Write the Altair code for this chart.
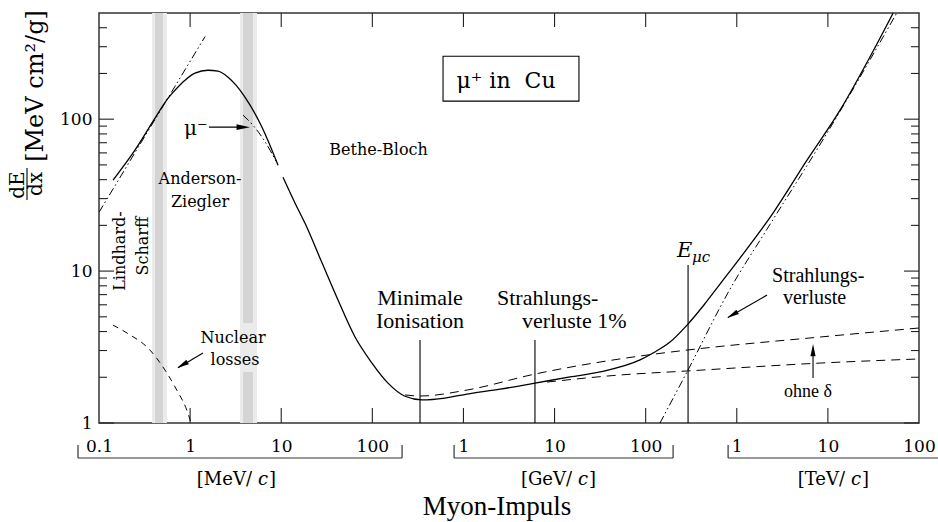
import altair as alt
import pandas as pd

# ---------------- data (momentum p in MeV/c, dE/dx in MeV cm^2/g) ----------------
solid_low_p = [0.1425, 0.248, 0.412, 0.571, 0.682, 0.879, 1.13, 1.57, 2.02, 2.61, 3.19, 4.0, 6.15, 9.23]
solid_low_v = [39.7, 62.5, 101.6, 137, 155, 180.6, 201, 210, 207, 189, 167.5, 139.6, 88.6, 49.8]

solid_high_p = [10.46, 14.2, 18.2, 28.1, 42.0, 64.6, 99.1, 148.6, 228.5, 351, 628, 1094, 2518, 6095,
                14800, 31550, 86700, 120500, 185000, 284500, 436000, 654000, 1.084e6, 2.50e6,
                5.90e6, 1.36e7, 3.13e7, 5.19e7]
solid_high_v = [41.5, 28.0, 20.7, 11.29, 6.45, 3.68, 2.48, 1.83, 1.50, 1.42, 1.46, 1.55, 1.67, 1.83,
                2.01, 2.17, 2.60, 2.89, 3.41, 4.41, 5.98, 8.21, 12.18, 24.1,
                53.7, 114.6, 280, 498]

ion_delta_p = [228.5, 333.7, 1094, 6095, 86700, 284500, 8.18e6, 1e8]
ion_delta_v = [1.53, 1.505, 1.648, 2.10, 2.76, 3.02, 3.68, 4.22]

ion_nodelta_p = [8260, 52200, 284500, 8.18e6, 1e8]
ion_nodelta_v = [1.86, 2.07, 2.20, 2.48, 2.64]

rad_p = [143500, 284500, 843000, 2.15e6, 9.77e6, 5.7e7]
rad_v = [1.0, 2.17, 7.61, 18.9, 80.9, 500]

nuclear_p = [0.1425, 0.203, 0.363, 0.530, 0.682, 0.997, 1.02]
nuclear_v = [4.41, 3.91, 3.02, 2.23, 1.73, 1.05, 1.0]

lindhard_p = [0.1, 1.46]
lindhard_v = [24.4, 350]

mu_minus_p = [3.81, 4.78, 6.15, 7.54, 8.99]
mu_minus_v = [106.3, 92.7, 76.2, 62.5, 51.4]

marker_p = [333.7, 6095, 2.92e5]
marker_top = [3.52, 3.52, 10.95]

band_outer_lo = [0.382, 3.53]
band_outer_hi = [0.5575, 5.42]
band_inner_lo = [0.4117, 3.81]
band_inner_hi = [0.504, 4.90]

x_decades = [1, 10, 100, 1e3, 1e4, 1e5, 1e6, 1e7]
x_label_values = [0.1, 1, 10, 100, 1e3, 1e4, 1e5, 1e6, 1e7, 1e8]
y_major = [1, 10, 100]
y_minor = [2, 3, 4, 5, 6, 7, 8, 9, 20, 30, 40, 50, 60, 70, 80, 90, 200, 300, 400]

bracket_lo = [0.0588, 789, 8.03e5]
bracket_hi = [212, 2.0e5, 2.0e8]
bracket_ends = [0.0588, 212, 789, 2.0e5, 8.03e5]
unit_prefix = ["[MeV/", "[GeV/", "[TeV/"]
unit_pos = [3.27, 10640, 1.055e7]

# ---------------- scales / axes ----------------
W, H = 820, 410
XS = alt.Scale(type="log", domain=[0.1, 1e8])
YS = alt.Scale(type="log", domain=[1, 500])
SERIF = "DejaVu Serif"
TIMES = "Liberation Serif"

XAX = alt.Axis(values=x_label_values, ticks=False, domain=False, grid=False, title=None,
               labelExpr="datum.value < 0.5 ? '0.1' : format(pow(10, round(log(datum.value)/LN10) % 3), 'd')",
               labelFont=SERIF, labelFontSize=17, labelColor="black", labelPadding=15,
               labelOverlap=False, labelFlush=False)
YAX = alt.Axis(values=y_major, ticks=False, domain=False, grid=False, title=None,
               labelExpr="format(datum.value, 'd')",
               labelFont=SERIF, labelFontSize=17, labelColor="black", labelPadding=7,
               labelOverlap=False, labelFlush=False)


def X(f="p"):
    return alt.X(f"{f}:Q", scale=XS, axis=XAX)


def Y(f="v"):
    return alt.Y(f"{f}:Q", scale=YS, axis=YAX)


def curve(ps, vs, dash=None, width=1.2):
    kw = dict(color="black", strokeWidth=width, clip=True, interpolate="monotone")
    if dash is not None:
        kw["strokeDash"] = dash
    return alt.Chart(pd.DataFrame({"p": ps, "v": vs})).mark_line(**kw).encode(x=X(), y=Y())


def seg(p1, v1, p2, v2, width=1.1):
    df = pd.DataFrame({"p": [p1], "v": [v1], "p2": [p2], "v2": [v2]})
    return alt.Chart(df).mark_rule(color="black", strokeWidth=width).encode(
        x=X(), y=Y(), x2="p2:Q", y2="v2:Q")


def head(p, v, angle, size=150):
    return alt.Chart(pd.DataFrame({"p": [p], "v": [v]})).mark_point(
        shape="M0,0L0.42,2L-0.42,2Z", filled=True, color="black", opacity=1,
        strokeWidth=0, size=size, angle=angle).encode(x=X(), y=Y())


def note(p, v, text, size=16, font=SERIF, align="center", baseline="alphabetic", angle=None, style=None):
    kw = dict(fontSize=size, font=font, align=align, baseline=baseline, color="black")
    if angle is not None:
        kw["angle"] = angle
    if style is not None:
        kw["fontStyle"] = style
    df = pd.DataFrame({"p": [p], "v": [v], "t": [text]})
    return alt.Chart(df).mark_text(**kw).encode(x=X(), y=Y(), text="t:N")


def pix_note(x, y, text, size=16, font=SERIF, align="center", baseline="middle", angle=None):
    kw = dict(fontSize=size, font=font, align=align, baseline=baseline, color="black")
    if angle is not None:
        kw["angle"] = angle
    return alt.Chart(alt.Data(values=[{"t": text}])).mark_text(**kw).encode(
        x=alt.value(x), y=alt.value(y), text="t:N")


layers = []

# grey bands
OUTER = "#ebebeb"
outer_df = pd.DataFrame({"p": band_outer_lo, "p2": band_outer_hi})
inner_df = pd.DataFrame({"p": band_inner_lo, "p2": band_inner_hi})
layers.append(alt.Chart(outer_df).mark_rect(color=OUTER).encode(
    x=X(), x2="p2:Q", y=alt.value(0), y2=alt.value(H)))
layers.append(alt.Chart(inner_df).mark_rect(color="#d4d4d4").encode(
    x=X(), x2="p2:Q", y=alt.value(0), y2=alt.value(H)))
patch = pd.DataFrame({"p": [band_inner_lo[1]], "p2": [band_inner_hi[1]], "v": [4.55], "v2": [2.165]})
layers.append(alt.Chart(patch).mark_rect(color=OUTER).encode(x=X(), x2="p2:Q", y=Y(), y2="v2:Q"))

# ticks (inward)
xt = pd.DataFrame({"p": x_decades})
layers.append(alt.Chart(xt).mark_rule(color="#222", strokeWidth=1.1).encode(
    x=X(), y=alt.value(H - 15), y2=alt.value(H)))
layers.append(alt.Chart(xt).mark_rule(color="#222", strokeWidth=1.1).encode(
    x=X(), y=alt.value(0), y2=alt.value(14)))
ymaj = pd.DataFrame({"v": y_major})
ymin = pd.DataFrame({"v": y_minor})
for x0, x1, d in [(0, 15, ymaj), (0, 8, ymin), (W - 15, W, ymaj), (W - 8, W, ymin)]:
    layers.append(alt.Chart(d).mark_rule(color="#222", strokeWidth=1.1).encode(
        y=Y(), x=alt.value(x0), x2=alt.value(x1)))

# curves
DASH = [9, 6]
DASHDOT = [8, 3, 1.5, 3, 1.5, 3]
layers.append(curve(lindhard_p, lindhard_v, dash=DASHDOT, width=1.0))
layers.append(curve(nuclear_p, nuclear_v, dash=[6, 5], width=1.0))
layers.append(curve(solid_low_p, solid_low_v, width=1.3))
layers.append(curve(solid_high_p, solid_high_v, width=1.3))
layers.append(curve(mu_minus_p, mu_minus_v, dash=DASHDOT, width=1.0))
layers.append(curve(ion_delta_p, ion_delta_v, dash=DASH, width=1.0))
layers.append(curve(ion_nodelta_p, ion_nodelta_v, dash=DASH, width=1.0))
layers.append(curve(rad_p, rad_v, dash=DASHDOT, width=1.0))

# vertical markers
mk = pd.DataFrame({"p": marker_p, "v": marker_top})
layers.append(alt.Chart(mk).mark_rule(color="black", strokeWidth=1.1).encode(
    x=X(), y=Y(), y2=alt.value(H)))

# box with mu+ in Cu
box = pd.DataFrame({"p": [597], "p2": [18530], "v": [259.6], "v2": [131.4]})
layers.append(alt.Chart(box).mark_rect(fill="white", stroke="black", strokeWidth=1.1).encode(
    x=X(), x2="p2:Q", y=Y(), y2="v2:Q"))
layers.append(note(2931, 160, "μ⁺ in\u00a0 Cu", size=22))

# arrows
layers.append(seg(1.61, 88.6, 3.6, 88.6))
layers.append(head(4.54, 88.6, 90, size=180))
layers.append(seg(1.385, 2.888, 0.74, 2.31))
layers.append(head(0.718, 2.30, 240))
layers.append(seg(2.15e6, 6.95, 8.0e5, 4.95))
layers.append(head(7.82e5, 4.91, 240))
layers.append(seg(6.87e6, 1.977, 6.87e6, 3.1))
layers.append(head(6.87e6, 3.31, 0))

# annotations
layers.append(note(0.857, 78.5, "μ⁻", size=20, align="left"))
layers.append(note(1.284, 37.4, "Anderson-", size=16))
layers.append(note(1.284, 26.4, "Ziegler", size=16))
layers.append(note(117, 58.0, "Bethe-Bloch", size=16))
layers.append(note(0.170, 13.54, "Lindhard-", size=16, baseline="middle", angle=270))
layers.append(note(0.304, 14.6, "Scharff", size=16, baseline="middle", angle=270))
layers.append(note(2.96, 3.36, "Nuclear", size=16))
layers.append(note(3.11, 2.41, "losses", size=16))
layers.append(note(333.7, 5.98, "Minimale", size=22, font=TIMES))
layers.append(note(333.7, 4.22, "Ionisation", size=22, font=TIMES))
layers.append(note(2335, 5.98, "Strahlungs-", size=22, font=TIMES, align="left"))
layers.append(note(4395, 4.22, "verluste 1%", size=22, font=TIMES, align="left"))
layers.append(note(2.44e6, 8.47, "Strahlungs-", size=20, font=TIMES, align="left"))
layers.append(note(3.21e6, 6.07, "verluste", size=20, font=TIMES, align="left"))
layers.append(note(6.05e6, 1.483, "ohne δ", size=18, font=TIMES))
layers.append(note(2.21e5, 12.37, "E", size=21, align="left", style="italic"))
layers.append(note(3.23e5, 11.46, "μc", size=15, align="left", style="italic"))

# unit brackets below the axis
br = pd.DataFrame({"p": bracket_lo, "p2": bracket_hi})
layers.append(alt.Chart(br).mark_rule(color="#333", strokeWidth=1.2).encode(
    x=X(), x2="p2:Q", y=alt.value(445)))
be = pd.DataFrame({"p": bracket_ends})
layers.append(alt.Chart(be).mark_rule(color="#333", strokeWidth=1.2).encode(
    x=X(), y=alt.value(432), y2=alt.value(445)))
ul = pd.DataFrame({"p": unit_pos, "t": unit_prefix, "c": ["c"] * 3, "b": ["]"] * 3})
layers.append(alt.Chart(ul).mark_text(font=SERIF, fontSize=18, baseline="middle", align="right",
                                      dx=15, color="black").encode(x=X(), y=alt.value(467), text="t:N"))
layers.append(alt.Chart(ul).mark_text(font=SERIF, fontSize=18, baseline="middle", align="center",
                                      dx=26, fontStyle="italic", color="black").encode(
    x=X(), y=alt.value(467), text="c:N"))
layers.append(alt.Chart(ul).mark_text(font=SERIF, fontSize=18, baseline="middle", align="left",
                                      dx=32, color="black").encode(x=X(), y=alt.value(467), text="b:N"))
layers.append(pix_note(398, 494, "Myon-Impuls", size=27, font=TIMES))

# y-axis title
layers.append(pix_note(-56, 73, "[MeV cm²/g]", size=24, baseline="alphabetic", angle=270))
layers.append(pix_note(-75, 172, "dE", size=20, baseline="alphabetic", angle=270))
layers.append(pix_note(-57, 171, "dx", size=20, baseline="alphabetic", angle=270))
layers.append(alt.Chart(alt.Data(values=[{"a": 1}])).mark_rule(color="black", strokeWidth=1.1).encode(
    x=alt.value(-72), y=alt.value(155), y2=alt.value(187)))

chart = alt.layer(*layers).properties(
    width=W, height=H,
    padding={"left": 99, "top": 13, "right": 19, "bottom": 99},
    autosize=alt.AutoSizeParams(type="none"),
).configure_view(stroke="#333", strokeWidth=1.5)

chart.save("out.html", embed_options={"renderer": "svg", "actions": False})
